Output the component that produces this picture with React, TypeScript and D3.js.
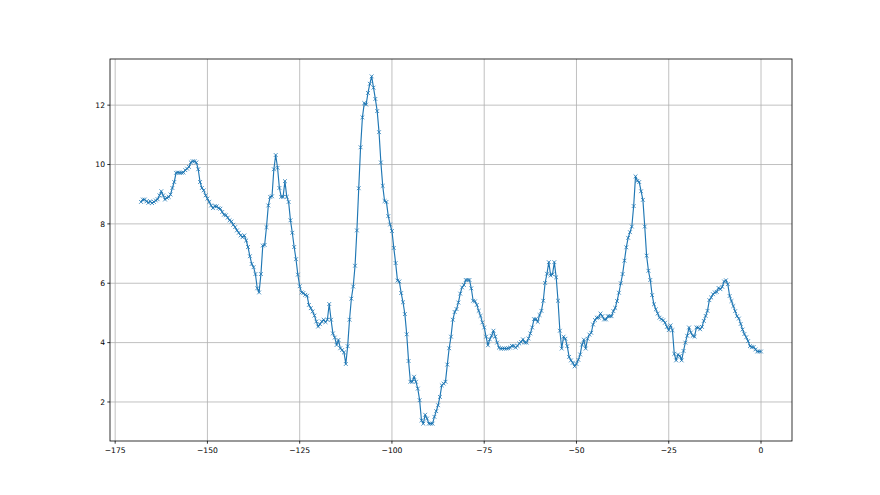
import React from "react";
import * as d3 from "d3";

// [x, y] samples
const seriesA: [number, number][] = [
  [-168, 8.74], [-167.5, 8.82], [-167, 8.82], [-166.5, 8.76], [-166, 8.71], [-165.5, 8.76], [-165, 8.7], [-164.5, 8.74], [-164, 8.79], [-163.5, 8.83],
  [-163, 8.96], [-162.5, 9.1], [-162, 8.96], [-161.5, 8.82], [-161, 8.88], [-160.5, 8.91], [-160, 8.99], [-159.5, 9.21], [-159, 9.41], [-158.5, 9.72],
  [-158, 9.73], [-157.5, 9.72], [-157, 9.72], [-156.5, 9.73], [-156, 9.81], [-155.5, 9.86], [-155, 9.92], [-154.5, 10.07], [-154, 10.11], [-153.5, 10.11],
  [-153, 10.07], [-152.5, 9.84], [-152, 9.41], [-151.5, 9.21], [-151, 9.13], [-150.5, 8.96], [-150, 8.85], [-149.5, 8.74], [-149, 8.62], [-148.5, 8.53],
  [-148, 8.6], [-147.5, 8.59], [-147, 8.53], [-146.5, 8.51], [-146, 8.4], [-145.5, 8.31], [-145, 8.29], [-144.5, 8.21], [-144, 8.12], [-143.5, 8.08],
  [-143, 7.97], [-142.5, 7.89], [-142, 7.78], [-141.5, 7.7], [-141, 7.61], [-140.5, 7.55], [-140, 7.61], [-139.5, 7.44], [-139, 7.22], [-138.5, 6.91],
  [-138, 6.65], [-137.5, 6.54], [-137, 6.31], [-136.5, 5.83], [-136, 5.69], [-135.5, 6.31], [-135, 7.27], [-134.5, 7.29], [-134, 7.89], [-133.5, 8.62],
  [-133, 8.91], [-132.5, 8.93], [-132, 9.84], [-131.5, 10.32], [-131, 9.89], [-130.5, 9.21], [-130, 8.91], [-129.5, 8.91], [-129, 9.44], [-128.5, 8.91],
  [-128, 8.74], [-127.5, 8.12], [-127, 7.7], [-126.5, 7.22], [-126, 6.81], [-125.5, 6.29], [-125, 5.9],
];

const seriesB: [number, number][] = [
  [-124.5, 5.69], [-124, 5.67], [-123.5, 5.61], [-123, 5.58], [-122.5, 5.27], [-122, 5.16], [-121.5, 5.05], [-121, 4.91], [-120.5, 4.71], [-120, 4.54],
  [-119.5, 4.62], [-119, 4.71], [-118.5, 4.77], [-118, 4.69], [-117.5, 4.77], [-117, 5.3], [-116.5, 4.77], [-116, 4.31], [-115.5, 4.17], [-115, 3.92],
  [-114.5, 4.09], [-114, 3.81], [-113.5, 3.75], [-113, 3.67], [-112.5, 3.28], [-112, 3.88], [-111.5, 4.77], [-111, 5.48], [-110.5, 5.89], [-110, 6.59],
  [-109.5, 7.78], [-109, 9.2], [-108.5, 10.58], [-108, 11.59], [-107.5, 12.07], [-107, 12.02], [-106.5, 12.41], [-106, 12.72], [-105.5, 12.97], [-105, 12.59],
  [-104.5, 12.21], [-104, 11.8], [-103.5, 11.09], [-103, 10.07], [-102.5, 9.28], [-102, 8.77], [-101.5, 8.74], [-101, 8.26], [-100.5, 7.98], [-100, 7.76],
  [-99.5, 7.19], [-99, 6.68], [-98.5, 6.09], [-98, 6.06], [-97.5, 5.67], [-97, 5.36], [-96.5, 4.96], [-96, 4.28], [-95.5, 3.38], [-95, 2.68],
  [-94.5, 2.68], [-94, 2.85], [-93.5, 2.68], [-93, 2.45], [-92.5, 2.06], [-92, 1.38], [-91.5, 1.27], [-91, 1.57], [-90.5, 1.44], [-90, 1.27],
  [-89.5, 1.27], [-89, 1.27], [-88.5, 1.5], [-88, 1.69], [-87.5, 1.89], [-87, 2.17], [-86.5, 2.56], [-86, 2.62], [-85.5, 2.68], [-85, 3.26],
  [-84.5, 3.81], [-84, 4.2], [-83.5, 4.77], [-83, 5.03], [-82.5, 5.13], [-82, 5.35], [-81.5, 5.65],
];

const seriesC: [number, number][] = [
  [-81, 5.86], [-80.5, 5.94], [-80, 6.11], [-79.5, 6.11], [-79, 6.11], [-78.5, 5.83], [-78, 5.41], [-77.5, 5.39], [-77, 5.27], [-76.5, 5.07],
  [-76, 4.9], [-75.5, 4.68], [-75, 4.51], [-74.5, 4.2], [-74, 3.91], [-73.5, 4.11], [-73, 4.23], [-72.5, 4.4], [-72, 4.2], [-71.5, 4.0],
  [-71, 3.83], [-70.5, 3.8], [-70, 3.8], [-69.5, 3.8], [-69, 3.8], [-68.5, 3.81], [-68, 3.83], [-67.5, 3.89], [-67, 3.89], [-66.5, 3.83],
  [-66, 3.89], [-65.5, 3.97], [-65, 4.02], [-64.5, 4.11], [-64, 4.0], [-63.5, 4.0], [-63, 4.14], [-62.5, 4.31], [-62, 4.51], [-61.5, 4.79],
  [-61, 4.79], [-60.5, 4.7], [-60, 4.93], [-59.5, 5.07], [-59, 5.41], [-58.5, 6.01], [-58, 6.32], [-57.5, 6.71], [-57, 6.26], [-56.5, 6.3],
  [-56, 6.71], [-55.5, 6.2], [-55, 5.41], [-54.5, 4.4], [-54, 3.8], [-53.5, 4.2], [-53, 4.13], [-52.5, 3.88], [-52, 3.52], [-51.5, 3.4],
  [-51, 3.32], [-50.5, 3.2], [-50, 3.28], [-49.5, 3.42], [-49, 3.6], [-48.5, 3.93], [-48, 4.1], [-47.5, 3.8], [-47, 4.13], [-46.5, 4.27],
  [-46, 4.33], [-45.5, 4.61], [-45, 4.76], [-44.5, 4.84], [-44, 4.84], [-43.5, 4.98], [-43, 4.89], [-42.5, 4.78], [-42, 4.78], [-41.5, 4.89],
  [-41, 4.89], [-40.5, 4.89], [-40, 5.06], [-39.5, 5.17], [-39, 5.4], [-38.5, 5.68],
];

const seriesD: [number, number][] = [
  [-38, 6.0], [-37.5, 6.31], [-37, 6.76], [-36.5, 7.21], [-36, 7.53], [-35.5, 7.72], [-35, 7.91], [-34.5, 8.6], [-34, 9.6], [-33.5, 9.45],
  [-33, 9.41], [-32.5, 9.1], [-32, 8.81], [-31.5, 7.91], [-31, 6.93], [-30.5, 6.42], [-30, 6.11], [-29.5, 5.6], [-29, 5.29], [-28.5, 5.12],
  [-28, 4.98], [-27.5, 4.84], [-27, 4.79], [-26.5, 4.75], [-26, 4.67], [-25.5, 4.53], [-25, 4.42], [-24.5, 4.58], [-24, 4.42], [-23.5, 3.62],
  [-23, 3.4], [-22.5, 3.6], [-22, 3.55], [-21.5, 3.4], [-21, 3.72], [-20.5, 4.0], [-20, 4.23], [-19.5, 4.51], [-19, 4.34], [-18.5, 4.23],
  [-18, 4.2], [-17.5, 4.51], [-17, 4.51], [-16.5, 4.45], [-16, 4.53], [-15.5, 4.73], [-15, 4.9], [-14.5, 5.07], [-14, 5.43], [-13.5, 5.52],
  [-13, 5.63], [-12.5, 5.69], [-12, 5.71], [-11.5, 5.84], [-11, 5.8], [-10.5, 5.88], [-10, 6.06], [-9.5, 6.1], [-9, 5.97], [-8.5, 5.57],
  [-8, 5.4], [-7.5, 5.23], [-7, 5.06], [-6.5, 4.89], [-6, 4.81], [-5.5, 4.63], [-5, 4.44], [-4.5, 4.29], [-4, 4.18], [-3.5, 4.05],
  [-3, 3.88], [-2.5, 3.85], [-2, 3.85], [-1.5, 3.77], [-1, 3.7], [-0.5, 3.7], [0, 3.7],
];

const xTicks = [-175, -150, -125, -100, -75, -50, -25, 0];
const yTicks = [2, 4, 6, 8, 10, 12];

const W = 880;
const H = 495;
const M = { left: 110, right: 792, top: 59, bottom: 441 };
const COLOR = "#1f77b4";

export default function App() {
  const data = [...seriesA, ...seriesB, ...seriesC, ...seriesD];
  const [x0, x1] = d3.extent(data, (d) => d[0]) as [number, number];
  const [y0, y1] = d3.extent(data, (d) => d[1]) as [number, number];
  const xp = (x1 - x0) * 0.05;
  const yp = (y1 - y0) * 0.05;
  const x = d3.scaleLinear().domain([x0 - xp, x1 + xp]).range([M.left, M.right]);
  const y = d3.scaleLinear().domain([y0 - yp, y1 + yp]).range([M.bottom, M.top]);
  const line = d3
    .line<[number, number]>()
    .x((d) => x(d[0]))
    .y((d) => y(d[1]));
  const fmt = d3.format("d");
  const ms = 1.9;
  const font = "'DejaVu Sans', sans-serif";

  return (
    <svg
      width={W}
      height={H}
      style={{ position: "absolute", left: 0, top: 0, background: "#fff" }}
    >
      <rect x={0} y={0} width={W} height={H} fill="#fff" />
      <defs>
        <clipPath id="plotclip">
          <rect x={M.left} y={M.top} width={M.right - M.left} height={M.bottom - M.top} />
        </clipPath>
      </defs>
      {/* grid */}
      <g stroke="#b0b0b0" strokeWidth={0.8}>
        {xTicks.map((t) => (
          <line key={"gx" + t} x1={x(t)} x2={x(t)} y1={M.top} y2={M.bottom} />
        ))}
        {yTicks.map((t) => (
          <line key={"gy" + t} x1={M.left} x2={M.right} y1={y(t)} y2={y(t)} />
        ))}
      </g>
      {/* series */}
      <g clipPath="url(#plotclip)">
        <path d={line(data) || ""} fill="none" stroke={COLOR} strokeWidth={1.15} strokeLinejoin="round" />
        <g stroke={COLOR} strokeWidth={0.8}>
          {data.map((d, i) => {
            const cx = x(d[0]);
            const cy = y(d[1]);
            return (
              <g key={i}>
                <line x1={cx - ms} y1={cy - ms} x2={cx + ms} y2={cy + ms} />
                <line x1={cx - ms} y1={cy + ms} x2={cx + ms} y2={cy - ms} />
              </g>
            );
          })}
        </g>
      </g>
      {/* spines */}
      <rect
        x={M.left}
        y={M.top}
        width={M.right - M.left}
        height={M.bottom - M.top}
        fill="none"
        stroke="#000"
        strokeWidth={0.8}
      />
      {/* x ticks */}
      <g fontFamily={font} fontSize={7.6} fill="#000">
        {xTicks.map((t) => (
          <g key={"xt" + t}>
            <line x1={x(t)} x2={x(t)} y1={M.bottom} y2={M.bottom + 2.7} stroke="#000" strokeWidth={0.8} />
            <text x={x(t)} y={M.bottom + 11.5} textAnchor="middle">
              {fmt(t)}
            </text>
          </g>
        ))}
        {yTicks.map((t) => (
          <g key={"yt" + t}>
            <line x1={M.left - 2.7} x2={M.left} y1={y(t)} y2={y(t)} stroke="#000" strokeWidth={0.8} />
            <text x={M.left - 5} y={y(t)} dy="0.35em" textAnchor="end">
              {fmt(t)}
            </text>
          </g>
        ))}
      </g>
    </svg>
  );
}
